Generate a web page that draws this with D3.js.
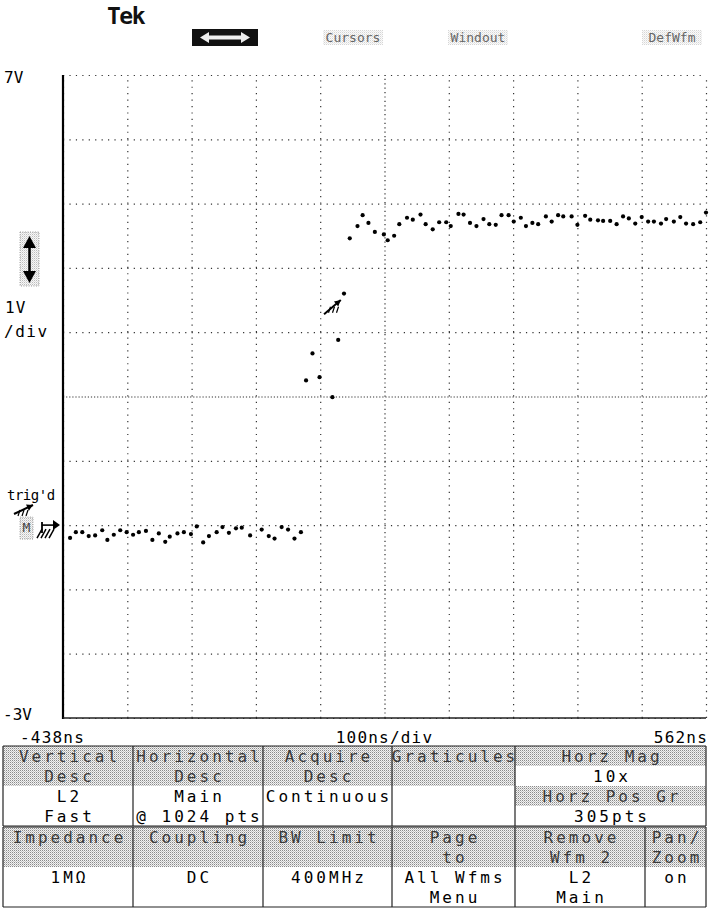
<!DOCTYPE html>
<html><head><meta charset="utf-8">
<script src="https://cdn.jsdelivr.net/npm/d3@7"></script>
<style>
html,body{margin:0;padding:0;background:#fff;}
svg{display:block;}
text{font-family:"DejaVu Sans Mono","Liberation Mono",monospace;}
</style></head>
<body><div id="chart"></div>
<script>
// ---------------- data ----------------
const baseTimes = [-427,-418,-408,-398,-388,-377,-369,-359,-349,-339,-329,-320,-309,-299,-289,-279,-272,-260,-250,-239,-230,-220,-211,-199,-190,-180,-169,-160,-147,-129,-118,-109,-98,-88,-78,-68];
const baseVolts = [-0.20,-0.11,-0.11,-0.17,-0.16,-0.08,-0.23,-0.15,-0.08,-0.11,-0.15,-0.11,-0.09,-0.23,-0.13,-0.26,-0.18,-0.13,-0.11,-0.14,-0.02,-0.27,-0.17,-0.11,-0.03,-0.12,-0.05,-0.04,-0.16,-0.07,-0.17,-0.21,-0.03,-0.07,-0.21,-0.11];
const edgeTimes = [-60,-50,-39,-19,-10,-1];
const edgeVolts = [2.25,2.67,2.30,1.99,2.88,3.60];
const highTimes = [8,20,28,37,47,61,67,77,85,97,106,118,126,137,147,158,165,177,185,195,205,216,225,235,244,255,263,274,282,292,301,313,322,332,340,353,362,374,382,394,402,413,423,433,442,452,462,472,481,492,500,512,522,531,542,553,562];
const highVolts = [4.46,4.65,4.82,4.70,4.56,4.52,4.43,4.50,4.68,4.78,4.75,4.83,4.68,4.60,4.71,4.71,4.65,4.84,4.83,4.70,4.65,4.76,4.68,4.67,4.82,4.82,4.72,4.78,4.65,4.70,4.68,4.80,4.72,4.82,4.80,4.80,4.67,4.81,4.75,4.74,4.73,4.73,4.68,4.80,4.77,4.69,4.79,4.72,4.72,4.69,4.76,4.72,4.79,4.69,4.68,4.71,4.86];

const timeDomain = [-438, 562];      // ns
const voltDomain = [-3, 7];          // V
const timeGrid = d3.range(-438, 563, 100);
const voltGrid = d3.range(-3, 8, 1);
const axisLabels = {left:"-438ns", mid:"100ns/div", right:"562ns", top:"7V", bottom:"-3V", scale1:"1V", scale2:"/div", trig:"trig'd"};
const topMenu = ["Cursors","Windout","DefWfm"];

const upperCells = [
  {lines:["Vertical","Desc","L2","Fast"], gray:[1,1,0,0]},
  {lines:["Horizontal","Desc","Main","@ 1024 pts"], gray:[1,1,0,0]},
  {lines:["Acquire","Desc","Continuous",""], gray:[1,1,0,0]},
  {lines:["Graticules","","",""], gray:[1,1,0,0]},
  {lines:["Horz Mag","10x","Horz Pos Gr","305pts"], gray:[1,0,1,0]}
];
const lowerCells = [
  {lines:["Impedance","","1MΩ",""], gray:[1,1,0,0]},
  {lines:["Coupling","","DC",""], gray:[1,1,0,0]},
  {lines:["BW Limit","","400MHz",""], gray:[1,1,0,0]},
  {lines:["Page","to","All Wfms","Menu"], gray:[1,1,0,0]},
  {lines:["Remove","Wfm 2","L2","Main"], gray:[1,1,0,0]},
  {lines:["Pan/","Zoom","on",""], gray:[1,1,0,0]}
];

// ---------------- layout ----------------
const W = 712, H = 911;
const plot = {l:63, r:706, t:75, b:718};
const upperCols = [3,133,263,392,515,706];
const lowerCols = [3,133,263,392,515,645,706];
const tableTop = 746, lineH = 20;

const svg = d3.select("#chart").append("svg").attr("width",W).attr("height",H);
svg.append("rect").attr("width",W).attr("height",H).attr("fill","#fff");

const defs = svg.append("defs");
const pat = defs.append("pattern").attr("id","stip").attr("width",2).attr("height",2).attr("patternUnits","userSpaceOnUse");
pat.append("rect").attr("width",2).attr("height",2).attr("fill","#f2f2f2");
pat.append("rect").attr("width",1).attr("height",1).attr("fill","#8a8a8a");
pat.append("rect").attr("x",1).attr("y",1).attr("width",1).attr("height",1).attr("fill","#c4c4c4");

const x = d3.scaleLinear().domain(timeDomain).range([plot.l, plot.r]);
const y = d3.scaleLinear().domain(voltDomain).range([plot.b, plot.t]);

// ---------------- graticule ----------------
const gx = svg.append("g").attr("transform",`translate(0,${plot.b})`)
  .call(d3.axisBottom(x).tickValues(timeGrid).tickSize(-(plot.b-plot.t)).tickFormat(""));
gx.select(".domain").remove();
gx.selectAll(".tick line").attr("stroke","#333").attr("stroke-width",1.2)
  .attr("stroke-dasharray",(d)=> d===62 ? "1.2,3.2" : "1.2,5.23");

const gy = svg.append("g").attr("transform",`translate(${plot.l},0)`)
  .call(d3.axisLeft(y).tickValues(voltGrid).tickSize(-(plot.r-plot.l)).tickFormat(""));
gy.select(".domain").remove();
gy.selectAll(".tick line").attr("stroke","#333").attr("stroke-width",1.2)
  .attr("stroke-dasharray",(d)=> d===2 ? "1.2,1.9" : "1.2,5.23");

// solid left & bottom borders
svg.append("line").attr("x1",plot.l).attr("x2",plot.l).attr("y1",y(7)).attr("y2",y(-3)+1)
  .attr("stroke","#000").attr("stroke-width",2.2);
svg.append("line").attr("x1",plot.l).attr("x2",plot.r).attr("y1",y(-3)).attr("y2",y(-3))
  .attr("stroke","#222").attr("stroke-width",1.6);

// ---------------- waveform dots ----------------
const pts = [];
baseTimes.forEach((t,i)=>pts.push([t,baseVolts[i]]));
edgeTimes.forEach((t,i)=>pts.push([t,edgeVolts[i]]));
highTimes.forEach((t,i)=>pts.push([t,highVolts[i]]));
svg.append("g").selectAll("circle").data(pts).join("circle")
  .attr("cx",d=>x(d[0])).attr("cy",d=>y(d[1])).attr("r",2.1).attr("fill","#000");

// trigger point arrow near the edge
function hatchArrow(g, x0, y0, x1, y1){
  g.append("line").attr("x1",x0).attr("y1",y0).attr("x2",x1).attr("y2",y1)
    .attr("stroke","#000").attr("stroke-width",2);
  const ang = Math.atan2(y1-y0, x1-x0);
  const hl = 7, hw = 0.5;
  g.append("path").attr("d",`M${x1},${y1} L${x1-hl*Math.cos(ang-hw)},${y1-hl*Math.sin(ang-hw)} L${x1-hl*Math.cos(ang+hw)},${y1-hl*Math.sin(ang+hw)} Z`).attr("fill","#000");
}
const ta = svg.append("g");
hatchArrow(ta, x(-32), y(3.28), x(-6), y(3.5));
[0,1,2].forEach(k=>{
  ta.append("line").attr("x1",x(-22)+k*4).attr("y1",y(3.38)-1).attr("x2",x(-22)+k*4-2).attr("y2",y(3.38)+5)
    .attr("stroke","#000").attr("stroke-width",1.2);
});

// ---------------- left labels ----------------
const lab = svg.append("g").attr("font-size",16).attr("fill","#000");
lab.append("text").attr("x",4).attr("y",83).text(axisLabels.top);
lab.append("text").attr("x",3).attr("y",720).text(axisLabels.bottom);
lab.append("text").attr("x",5).attr("y",313).attr("letter-spacing",1).text(axisLabels.scale1);
lab.append("text").attr("x",4).attr("y",337).attr("letter-spacing",1.5).text(axisLabels.scale2);
lab.append("text").attr("x",7).attr("y",500).attr("font-size",14).attr("letter-spacing",-0.5).text(axisLabels.trig);

// vertical double arrow in dotted box
const va = svg.append("g");
va.append("rect").attr("x",20).attr("y",232).attr("width",19).attr("height",54)
  .attr("fill","url(#stip)").attr("opacity",0.55).attr("stroke","#555").attr("stroke-dasharray","1,1.5");
va.append("line").attr("x1",29.5).attr("x2",29.5).attr("y1",243).attr("y2",276).attr("stroke","#000").attr("stroke-width",2.5);
va.append("path").attr("d","M29.5,236 L23,248 L36,248 Z").attr("fill","#000");
va.append("path").attr("d","M29.5,283 L23,271 L36,271 Z").attr("fill","#000");

// trig'd arrow
const tg = svg.append("g");
hatchArrow(tg, 14, 514, 33, 505);
[0,1,2].forEach(k=>{
  tg.append("line").attr("x1",20+k*4).attr("y1",510).attr("x2",18+k*4).attr("y2",516).attr("stroke","#000").attr("stroke-width",1.2);
});

// M ground marker
const gm = svg.append("g");
gm.append("rect").attr("x",20).attr("y",y(0)-8).attr("width",13).attr("height",22)
  .attr("fill","url(#stip)").attr("opacity",0.6).attr("stroke","#666").attr("stroke-dasharray","1,1.5");
gm.append("text").attr("x",26.5).attr("y",y(0)+7).attr("text-anchor","middle").attr("font-size",13).attr("fill","#444").text("M");
gm.append("path").attr("d",`M${plot.l-3},${y(0)} L${plot.l-10},${y(0)-5} L${plot.l-10},${y(0)+5} Z`).attr("fill","#000");
gm.append("line").attr("x1",42).attr("x2",plot.l-9).attr("y1",y(0)).attr("y2",y(0)).attr("stroke","#000").attr("stroke-width",1.6);
gm.append("line").attr("x1",42).attr("x2",42).attr("y1",y(0)-3).attr("y2",y(0)+8).attr("stroke","#000").attr("stroke-width",1.8);
[0,1,2,3].forEach(k=>{
  gm.append("line").attr("x1",37+k*4).attr("y1",y(0)+13).attr("x2",42+k*4).attr("y2",y(0)+4).attr("stroke","#000").attr("stroke-width",1.5);
});

// ---------------- bottom axis labels ----------------
const bl = svg.append("g").attr("font-size",16).attr("fill","#000").attr("letter-spacing",1.2);
bl.append("text").attr("x",x(timeDomain[0])-43).attr("y",743).text(axisLabels.left);
bl.append("text").attr("x",(x(timeDomain[0])+x(timeDomain[1]))/2).attr("y",743).attr("text-anchor","middle").text(axisLabels.mid);
bl.append("text").attr("x",x(timeDomain[1])+2).attr("y",743).attr("text-anchor","end").text(axisLabels.right);

// ---------------- top bar ----------------
const tb = svg.append("g");
tb.append("text").attr("x",107).attr("y",24).attr("font-family","Liberation Sans, Arial, sans-serif")
  .attr("font-weight","bold").attr("font-size",23).attr("letter-spacing",-1.5).attr("fill","#111").text("Tek");
tb.append("rect").attr("x",192).attr("y",29).attr("width",66).attr("height",17).attr("fill","#111");
tb.append("path").attr("d","M200,37.5 L209,32 L209,35.5 L241,35.5 L241,32 L250,37.5 L241,43 L241,39.5 L209,39.5 L209,43 Z").attr("fill","#eee");
const menuX = [353, 478, 672];
topMenu.forEach((m,i)=>{
  tb.append("rect").attr("x",menuX[i]-30).attr("y",30).attr("width",60).attr("height",15).attr("fill","url(#stip)").attr("opacity",0.35);
  tb.append("text").attr("x",menuX[i]).attr("y",42).attr("text-anchor","middle").attr("font-size",13)
    .attr("fill","#666").text(m);
});

// ---------------- menu table ----------------
const tbl = svg.append("g");
function drawRow(cells, cols, top){
  cells.forEach((c,i)=>{
    const x0 = cols[i], x1 = cols[i+1];
    c.gray.forEach((g,j)=>{
      if(g) tbl.append("rect").attr("x",x0).attr("y",top+j*lineH).attr("width",x1-x0).attr("height",lineH).attr("fill","url(#stip)");
    });
    c.lines.forEach((s,j)=>{
      if(!s) return;
      tbl.append("text").attr("x",(x0+x1)/2+1.5).attr("y",top+j*lineH+15.5).attr("text-anchor","middle")
        .attr("font-size",16).attr("letter-spacing",3)
        .attr("fill", c.gray[j] ? "#3a3a3a" : "#000").text(s);
    });
  });
  const bottom = top + 4*lineH;
  cols.forEach(cx=>{
    tbl.append("line").attr("x1",cx).attr("x2",cx).attr("y1",top).attr("y2",bottom).attr("stroke","#222").attr("stroke-width",1.2);
  });
  tbl.append("line").attr("x1",cols[0]).attr("x2",cols[cols.length-1]).attr("y1",top).attr("y2",top).attr("stroke","#222").attr("stroke-width",1.2);
  tbl.append("line").attr("x1",cols[0]).attr("x2",cols[cols.length-1]).attr("y1",bottom).attr("y2",bottom).attr("stroke","#222").attr("stroke-width",1.2);
}
drawRow(upperCells, upperCols, tableTop);
drawRow(lowerCells, lowerCols, tableTop + 4*lineH + 1);
</script>
</body></html>
